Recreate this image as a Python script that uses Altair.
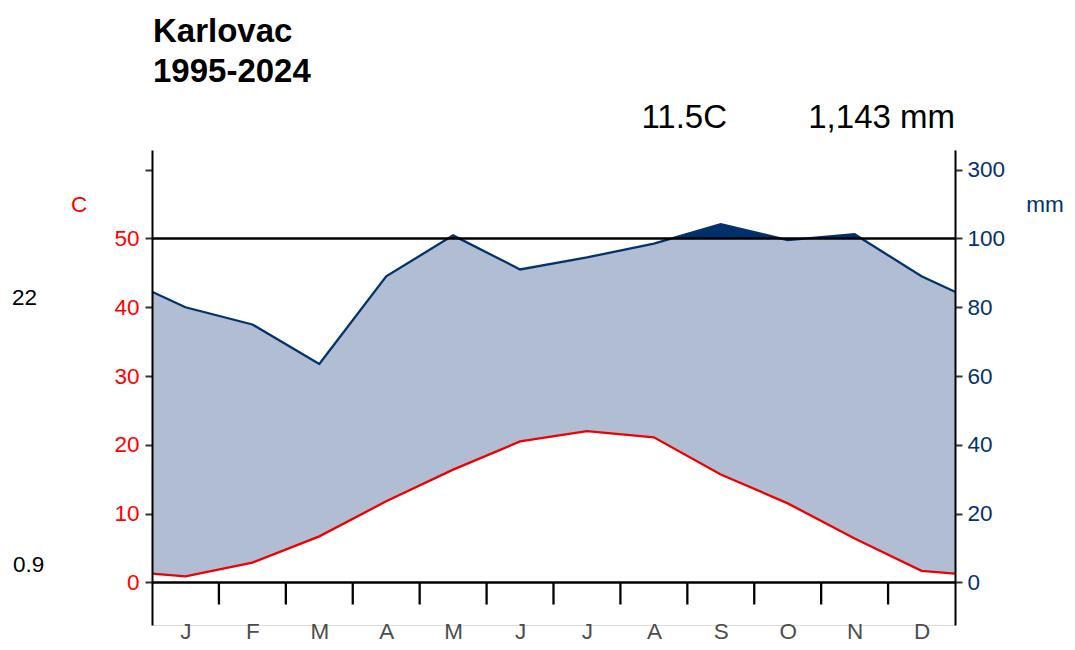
import altair as alt
import pandas as pd

# ---------------- data ----------------
station = "Karlovac"
period = "1995-2024"
month_labels = ["J", "F", "M", "A", "M", "J", "J", "A", "S", "O", "N", "D"]
temp_c = [0.9, 2.9, 6.7, 11.8, 16.4, 20.5, 22.0, 21.1, 15.7, 11.5, 6.4, 1.7]
precip_mm = [80, 75, 63.5, 89, 109, 91, 94.5, 98.5, 141.5, 99.5, 112.5, 89]
temp_ticks = [0, 10, 20, 30, 40, 50, 60]
month_bounds = list(range(1, 12))

Y_MIN, Y_MAX = -6.18, 62.86
TICK_LOW = -3.2

RED = "#ff0000"
LINE_RED = "#ee0000"
NAVY = "#00336f"
DARK = "#00306c"
LIGHT = "#b0bdd3"
FONT = "Liberation Sans"


def to_c(p):
    return p / 2 if p <= 100 else 50 + (p - 100) / 20


t_edge = (temp_c[0] + temp_c[-1]) / 2
p_edge = (precip_mm[0] + precip_mm[-1]) / 2
xs = [0] + [i + 0.5 for i in range(12)] + [12]
df = pd.DataFrame({
    "x": xs,
    "t": [t_edge] + temp_c + [t_edge],
    "p": [to_c(v) for v in [p_edge] + precip_mm + [p_edge]],
})
ticks_df = pd.DataFrame({"b": month_bounds})
one = pd.DataFrame({"k": [0]})

mean_label = f"{sum(temp_c) / 12:.1f}C"
total_label = f"{sum(precip_mm):,.0f} mm"
max_label = f"{max(temp_c):g}"
min_label = f"{min(temp_c):g}"

# ---------------- scales / axes ----------------
x_scale = alt.Scale(domain=[0, 12], nice=False, zero=False)
y_scale = alt.Scale(domain=[Y_MIN, Y_MAX], nice=False, zero=False)

month_js = "[" + ",".join(f"'{m}'" for m in month_labels) + "]"
x_axis = alt.Axis(
    values=[i + 0.5 for i in range(12)],
    labelExpr=f"{month_js}[floor(datum.value)]",
    ticks=False, domain=False, grid=False, title=None,
    labelColor="#4d4d4d", labelFontSize=22.5, labelFont=FONT, labelPadding=-5,
)
yl_axis = alt.Axis(
    values=temp_ticks, labelExpr="datum.value == 60 ? '' : datum.label",
    grid=False, title=None, labelColor=RED, labelFontSize=22.5, labelFont=FONT,
    labelPadding=6, tickSize=7, tickWidth=2, tickColor="#333333",
    domainColor="black", domainWidth=2, zindex=1,
)
yr_axis = alt.Axis(
    orient="right", values=temp_ticks,
    labelExpr="datum.value <= 50 ? format(datum.value * 2, 'd') : format(100 + (datum.value - 50) * 20, 'd')",
    grid=False, title=None, labelColor=NAVY, labelFontSize=22.5, labelFont=FONT,
    labelPadding=5, tickSize=7, tickWidth=2, tickColor="#333333",
    domainColor="black", domainWidth=2, zindex=1,
)

X = alt.X("x:Q", scale=x_scale, axis=x_axis)

base = alt.Chart(df)

humid = base.mark_area(fill=LIGHT, opacity=1, orient="vertical").encode(
    x=X,
    y=alt.Y("p:Q", scale=y_scale, axis=yl_axis, stack=None),
    y2=alt.Y2("t:Q"),
)
wet_band = alt.Chart(one).mark_rect(color=DARK).encode(
    x=alt.X(datum=0, scale=x_scale, axis=x_axis), x2=alt.X2(datum=12),
    y=alt.Y(datum=50, scale=y_scale, axis=yl_axis), y2=alt.Y2(datum=Y_MAX),
)
cover = base.mark_area(fill="white", opacity=1, orient="vertical").encode(
    x=X,
    y=alt.Y("p:Q", scale=y_scale, axis=yl_axis, stack=None),
    y2=alt.value(-3),
)
p_line = base.mark_line(color=NAVY, strokeWidth=2.3).encode(
    x=X, y=alt.Y("p:Q", scale=y_scale, axis=yl_axis)
)
t_line = base.mark_line(color=LINE_RED, strokeWidth=2.3).encode(
    x=X, y=alt.Y("t:Q", scale=y_scale, axis=yl_axis)
)
rule50 = alt.Chart(one).mark_rule(color="black", strokeWidth=2.3).encode(
    x=alt.X(datum=0, scale=x_scale, axis=x_axis), x2=alt.X2(datum=12),
    y=alt.Y(datum=50, scale=y_scale, axis=yl_axis),
)
rule0 = alt.Chart(one).mark_rule(color="black", strokeWidth=2.3).encode(
    x=alt.X(datum=0, scale=x_scale, axis=x_axis), x2=alt.X2(datum=12),
    y=alt.Y(datum=0, scale=y_scale, axis=yl_axis),
)
month_ticks = alt.Chart(ticks_df).mark_rule(color="black", strokeWidth=2.3).encode(
    x=alt.X("b:Q", scale=x_scale, axis=x_axis),
    y=alt.Y(datum=0, scale=y_scale, axis=yl_axis), y2=alt.Y2(datum=TICK_LOW),
)


def label(text, x, y, size=22.5, color="black", align="left", baseline="middle", weight="normal"):
    return alt.Chart(one).mark_text(
        text=text, fontSize=size, color=color, align=align, baseline=baseline,
        font=FONT, fontWeight=weight,
    ).encode(x=alt.value(x), y=alt.value(y))


texts = [
    label(station, 1, -108, size=33, baseline="alphabetic", weight="bold"),
    label(period, 1, -68, size=33, baseline="alphabetic", weight="bold"),
    label(mean_label, 575, -22, size=33, align="right", baseline="alphabetic"),
    label(total_label, 803, -22, size=33, align="right", baseline="alphabetic"),
    label("C", -73, 55, color=RED, align="center"),
    label("mm", 893, 55, color=NAVY, align="center"),
    label(max_label, -140, 148),
    label(min_label, -139, 415),
]

left = alt.layer(humid, wet_band, cover, p_line, t_line, rule50, rule0, month_ticks, *texts)
right = base.mark_line(opacity=0).encode(
    x=X, y=alt.Y("p:Q", scale=y_scale, axis=yr_axis)
)

chart = (
    alt.layer(left, right)
    .resolve_scale(y="independent")
    .properties(
        width=803, height=475,
        autosize=alt.AutoSizeParams(type="none"),
        padding={"left": 144, "top": 142, "right": 112, "bottom": 17},
    )
    .configure_view(stroke=None)
    .configure(font=FONT)
)

chart.save("out.html", embed_options={"renderer": "svg", "actions": False})
